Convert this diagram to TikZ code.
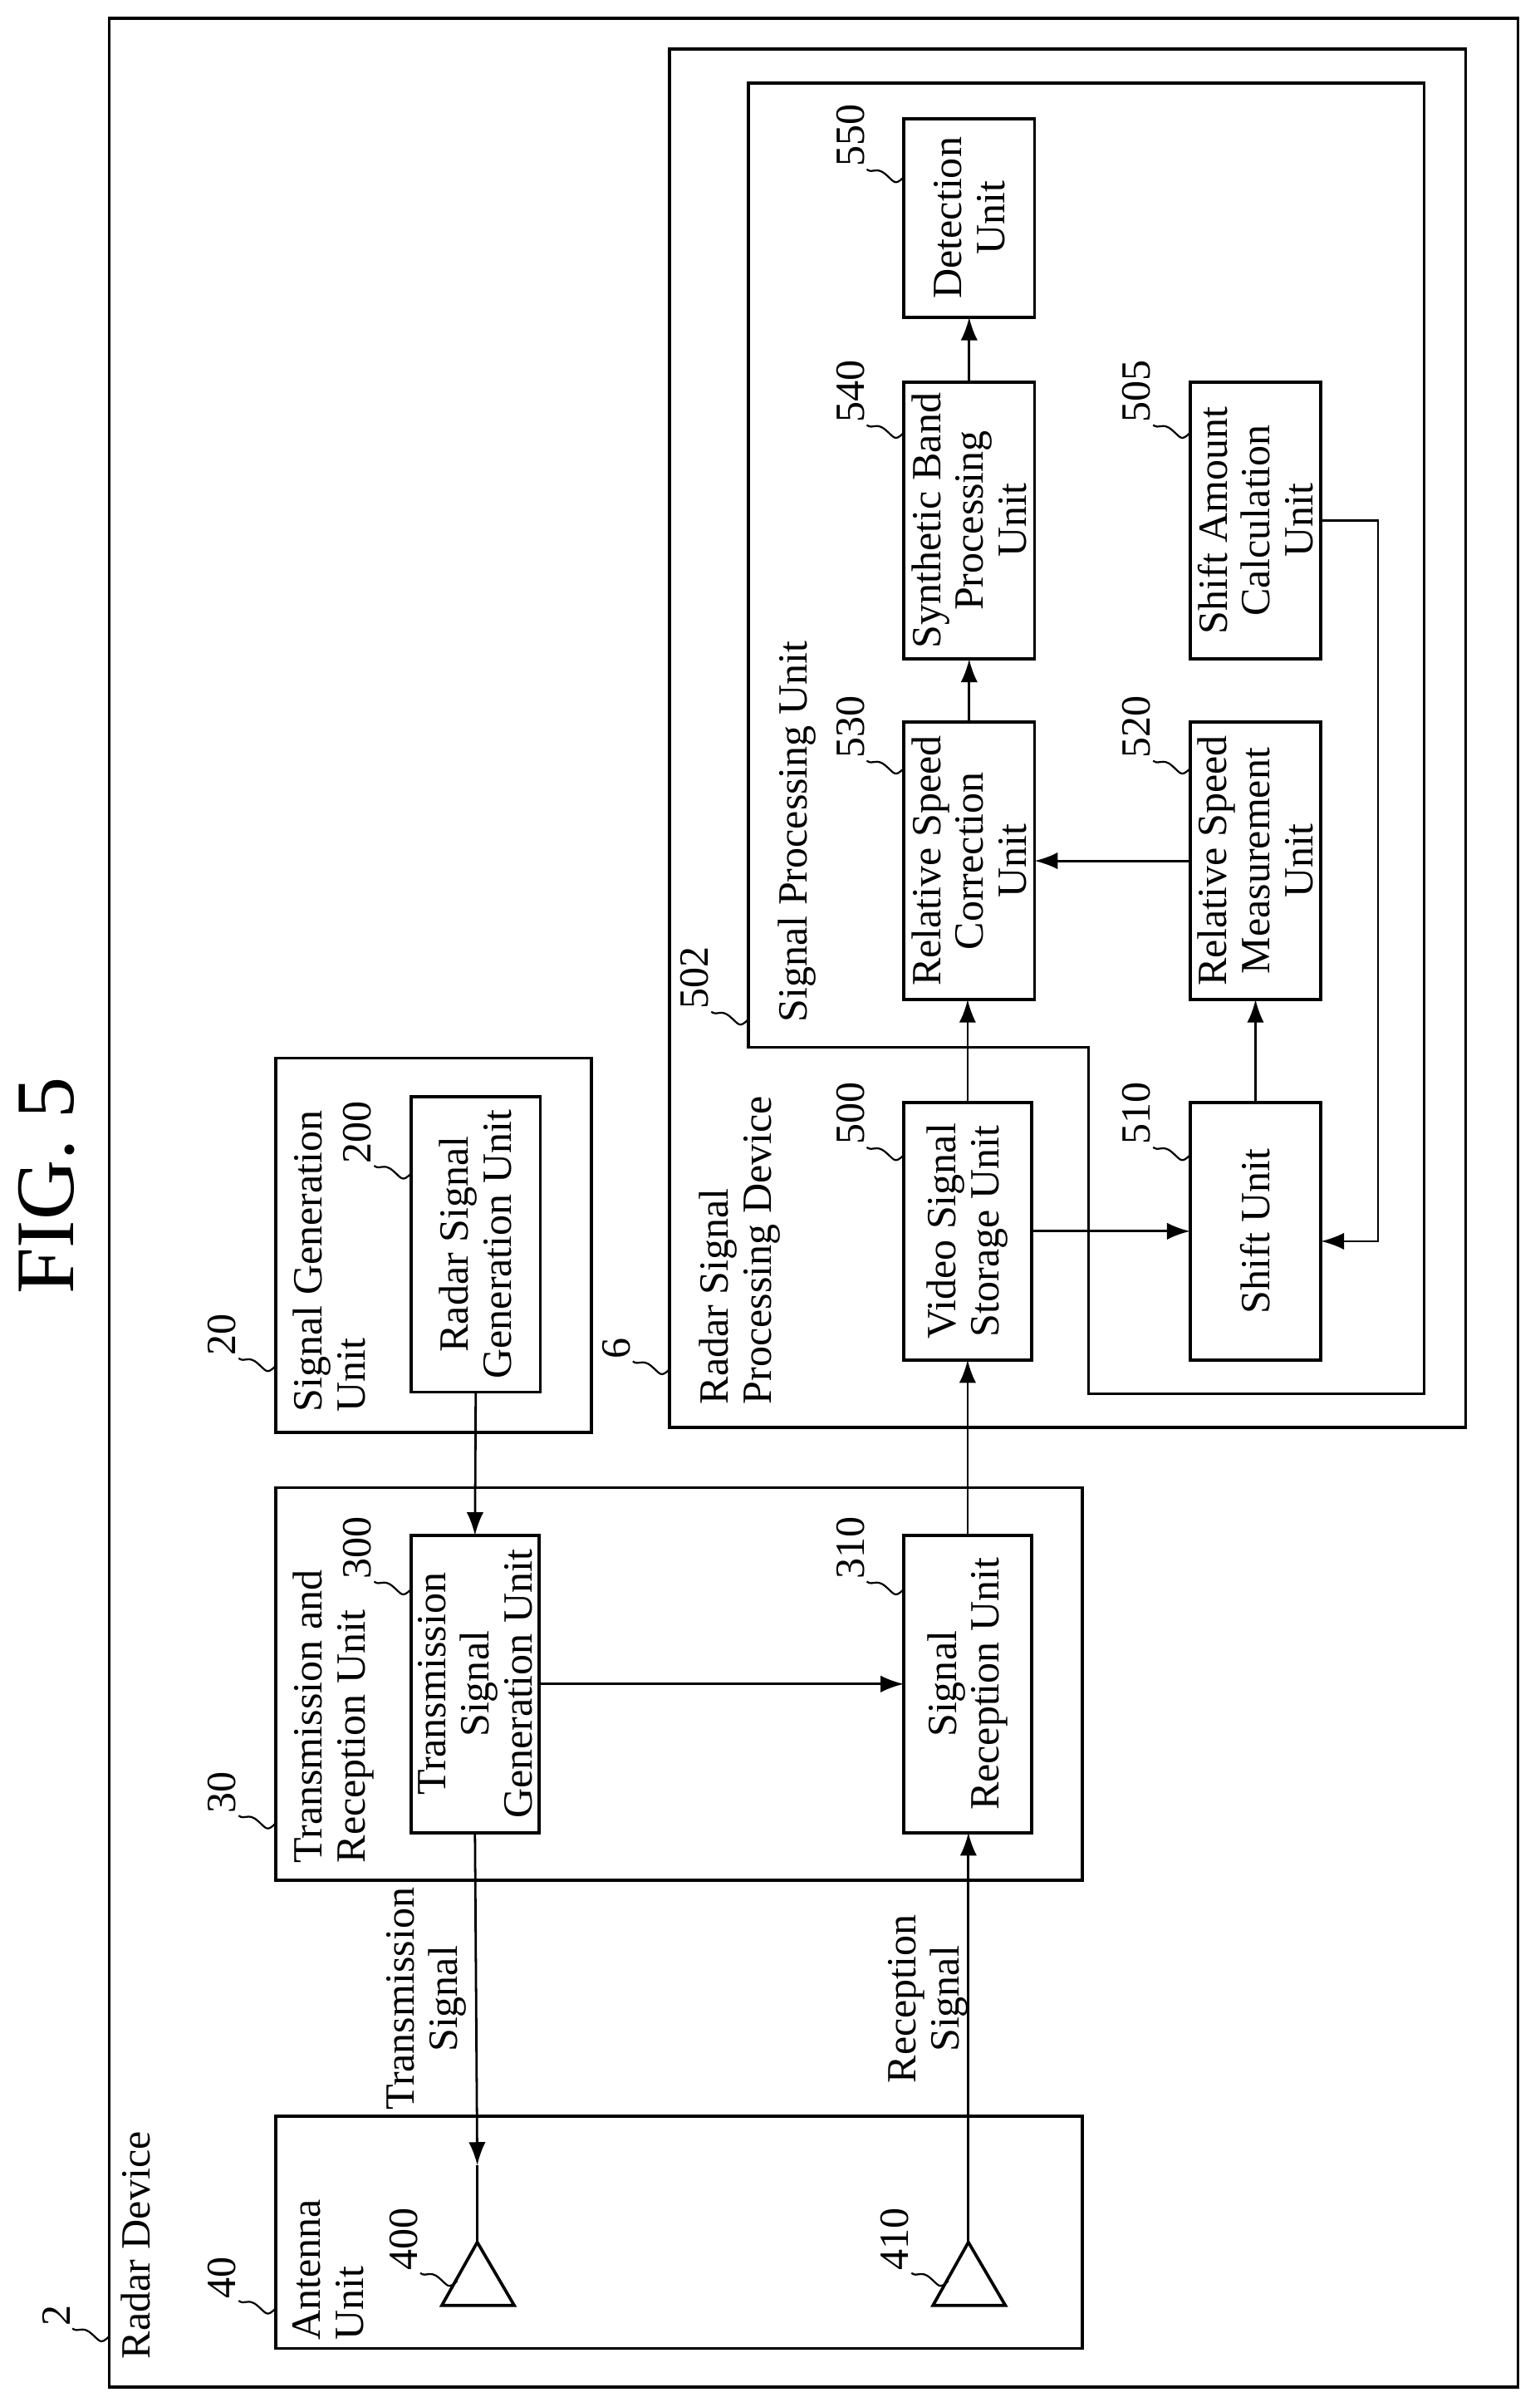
\documentclass[tikz,border=0pt]{standalone}
\usepackage{fontspec}
\setmainfont{Liberation Serif}
\usetikzlibrary{arrows.meta,calc}
\newcommand\bxf{\fontsize{27}{28}\selectfont}
\newcommand\mkbox[5]{\node[bx,minimum width={(#4-#2)*1pt},minimum height={(#5-#3)*1pt}] (#1) at ({(#2+#4)/2},{(#3+#5)/2}) {};}
\newcommand\reflab[2]{\draw[sq] #1 .. controls +(-6,6) and +(6,5) .. ++(-12,-2) .. controls +(-6,-5) and +(4,3) .. ++(-12,-3) node[rotate=90,anchor=south west,inner sep=1pt,font=\bxf]{#2};}
\begin{document}
\begin{tikzpicture}[x=1pt,y=-1pt,
  bx/.style={draw,line width=2pt,inner sep=0pt,outer sep=0pt},
  tx/.style={rotate=90,align=center,font=\bxf,inner sep=0pt},
  cl/.style={rotate=90,align=left,font=\bxf,inner sep=0pt,anchor=north west},
  arr/.style={line width=1.5pt,-{Latex[length=15pt,width=11pt]}},
  ln/.style={line width=1.5pt},
  sq/.style={line width=1.2pt}]
\useasboundingbox (0,0) rectangle (1000,1563);
% title
\node[rotate=90,font=\fontsize{54}{60}\selectfont] (fig) at (30,770) {FIG. 5};
% outer
\mkbox{b2}{71}{12}{986}{1550}
\node[cl,anchor=west] (t2) at (88,1532) {Radar Device};
\reflab{(71,1517)}{2}
% signal generation
\mkbox{b20}{179}{687}{384}{930}
\node[cl] (t20) at (190,917) {Signal Generation\\Unit};
\reflab{(179,887)}{20}
\mkbox{b200}{267}{712}{351}{904}
\node[tx] (t200) at (b200) {Radar Signal\\Generation Unit};
\reflab{(267,762)}{200}
% transmission and reception
\mkbox{b30}{179}{966}{703}{1221}
\node[cl] (t30) at (190,1210) {Transmission and\\Reception Unit};
\reflab{(179,1184)}{30}
\mkbox{b300}{267}{997}{350}{1190}
\node[tx] (t300) at (b300) {Transmission\\Signal\\Generation Unit};
\reflab{(267,1032)}{300}
\mkbox{b310}{587}{997}{670}{1190}
\node[tx] (t310) at (b310) {Signal\\Reception Unit};
\reflab{(587,1032)}{310}
% antenna
\mkbox{b40}{179}{1374}{703}{1525}
\node[cl] (t40) at (190,1520) {Antenna\\Unit};
\reflab{(179,1499)}{40}
\coordinate (ap400) at (310,1456);
\coordinate (ap410) at (629,1456);
\draw[line width=2pt] (ap400) -- (287,1497) -- (334,1497) -- cycle;
\draw[line width=2pt] (ap410) -- (606,1497) -- (653,1497) -- cycle;
\reflab{(297,1481)}{400}
\reflab{(616,1481)}{410}
% radar signal processing device
\mkbox{b6}{435}{32}{952}{927}
\node[cl] (t6) at (454,912) {Radar Signal\\Processing Device};
\reflab{(435,889)}{6}
\draw[line width=2pt] (486,54) -- (925,54) -- (925,905) -- (707,905) -- (707,680) -- (486,680) -- cycle;
\node[cl] (t502) at (505,664) {Signal Processing Unit};
\reflab{(486,662)}{502}
\mkbox{b500}{587}{716}{670}{883}
\node[tx] (t500) at (b500) {Video Signal\\Storage Unit};
\reflab{(587,750)}{500}
\mkbox{b510}{773}{716}{858}{883}
\node[tx] (t510) at (b510) {Shift Unit};
\reflab{(773,750)}{510}
\mkbox{b530}{587}{469}{672}{649}
\node[tx] (t530) at (b530) {Relative Speed\\Correction\\Unit};
\reflab{(587,499)}{530}
\mkbox{b520}{773}{469}{858}{649}
\node[tx] (t520) at (b520) {Relative Speed\\Measurement\\Unit};
\reflab{(773,499)}{520}
\mkbox{b540}{587}{248}{672}{428}
\node[tx] (t540) at (b540) {Synthetic Band\\Processing\\Unit};
\reflab{(587,281)}{540}
\mkbox{b505}{773}{248}{858}{428}
\node[tx] (t505) at (b505) {Shift Amount\\Calculation\\Unit};
\reflab{(773,281)}{505}
\mkbox{b550}{587}{77}{672}{206}
\node[tx] (t550) at (b550) {Detection\\Unit};
\reflab{(587,115)}{550}
% signal labels
\node[tx] (ts) at (277,1298) {Transmission\\Signal};
\node[tx] (tr) at (603,1298) {Reception\\Signal};
% connectors
\draw[arr] (b200.south) -- (b300.north);
\draw[arr] (b300.east) -- (b310.west);
\coordinate (tip400) at (310,1406);
\draw[arr] (b300.south) -- (tip400);
\draw[ln] (tip400) -- (ap400);
\draw[arr] (ap410) -- (ap410 |- b310.south);
\draw[arr] (b310.north) -- (b310.north |- b500.south);
\draw[arr] (b500.north) -- (b500.north |- b530.south);
\draw[arr] (b500.east) -- (b500.east -| b510.west);
\draw[arr] (b510.north) -- (b520.south);
\draw[arr] (b520.west) -- (b520.west -| b530.east);
\draw[arr] (b530.north) -- (b530.north |- b540.south);
\draw[arr] (b540.north) -- (b550.south);
\coordinate (fb1) at (895,338);
\coordinate (fb2) at (895,806);
\draw[arr] (b505.east) -- (fb1) -- (fb2) -- (fb2 -| b510.east);
\end{tikzpicture}
\end{document}
